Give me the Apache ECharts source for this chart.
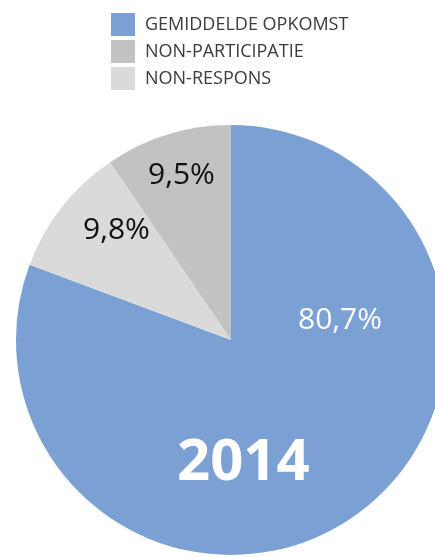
<!DOCTYPE html>
<html>
<head>
<meta charset="utf-8">
<script src="https://cdn.jsdelivr.net/npm/echarts@6/dist/echarts.min.js"></script>
<style>html,body{margin:0;padding:0;background:#fff}#c{width:435px;height:557px}</style>
</head>
<body>
<div id="c"></div>
<script>
var categories = ['GEMIDDELDE OPKOMST', 'NON-RESPONS', 'NON-PARTICIPATIE'];
var values = [80.7, 9.8, 9.5];
var legendOrder = ['GEMIDDELDE OPKOMST', 'NON-PARTICIPATIE', 'NON-RESPONS'];
var colors = ['#7BA0D4', '#DADADA', '#C2C2C2'];
var yearLabel = '2014';

function fmt(v) { return v.toFixed(1).replace('.', ',') + '%'; }

var chart = echarts.init(document.getElementById('c'));
var font = '"Open Sans", "Noto Sans", sans-serif';
chart.setOption({
  animation: false,
  legend: {
    data: legendOrder,
    orient: 'vertical',
    left: 106, top: 8,
    itemWidth: 24, itemHeight: 23, itemGap: 4,
    icon: 'rect',
    textStyle: { fontFamily: font, fontSize: 18, color: '#3a3a3a', padding: [0, 0, 0, 5] }
  },
  series: [{
    type: 'pie',
    center: [231, 340],
    radius: 215,
    startAngle: 90,
    clockwise: true,
    label: { show: false },
    labelLine: { show: false },
    emphasis: { disabled: true },
    itemStyle: { borderWidth: 0 },
    data: categories.map(function (c, i) {
      return { name: c, value: values[i], itemStyle: { color: colors[i] } };
    })
  }],
  graphic: [
    { type: 'text', z: 100, left: 298, top: 305, style: { text: fmt(values[0]), fill: '#fff', font: '30px ' + font } },
    { type: 'text', z: 100, left: 83, top: 215, style: { text: fmt(values[1]), fill: '#111', font: '30px ' + font } },
    { type: 'text', z: 100, left: 148, top: 160, style: { text: fmt(values[2]), fill: '#111', font: '30px ' + font } },
    { type: 'text', z: 100, left: 177, top: 434, style: { text: yearLabel, fill: '#fff', font: 'bold 58px ' + font } }
  ]
});
</script>
</body>
</html>
